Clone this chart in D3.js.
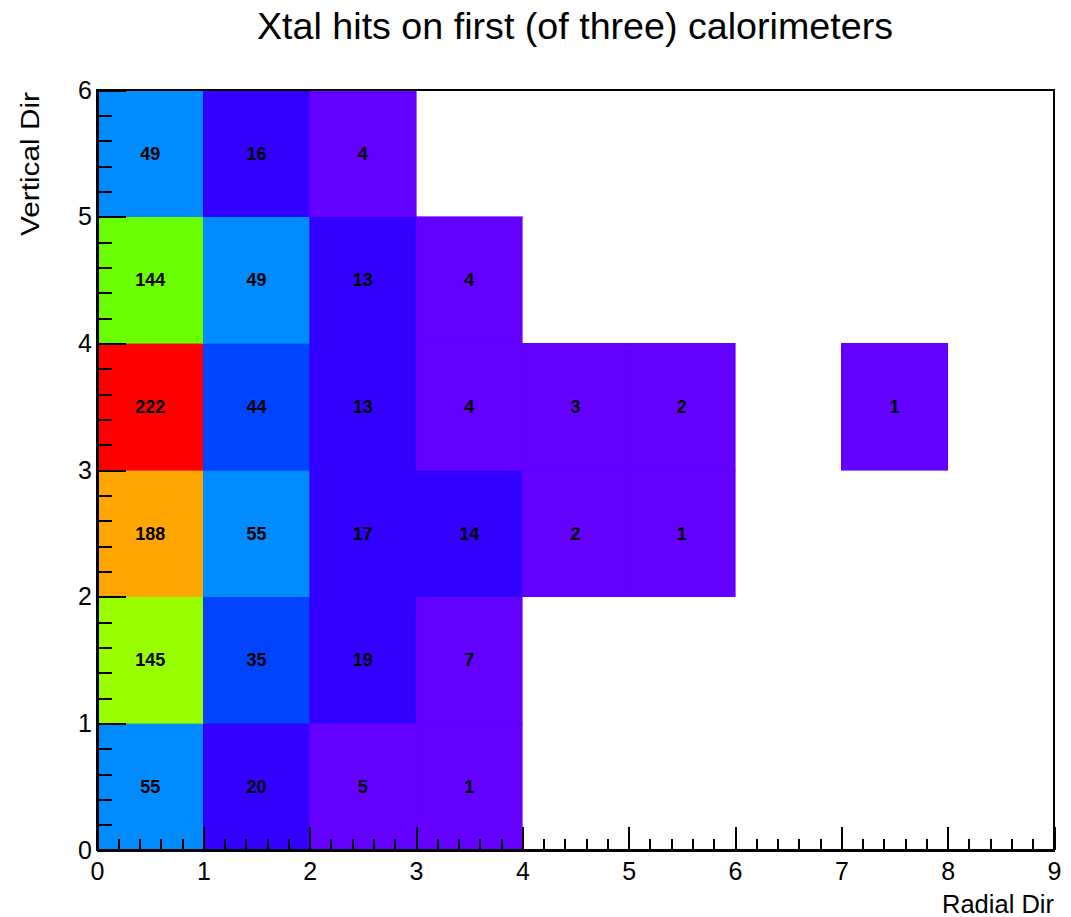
<!DOCTYPE html>
<html>
<head>
<meta charset="utf-8">
<script src="https://cdn.jsdelivr.net/npm/d3@7"></script>
<style>
  body { margin: 0; background: #fff; }
  text { font-family: "Liberation Sans", Arial, Helvetica, sans-serif; }
</style>
</head>
<body>
<div id="chart"></div>
<script>
// bin edges and counts (rows go bottom -> top, one entry per radial bin)
const radialEdges = [0, 1, 2, 3, 4, 5, 6, 7, 8, 9];
const verticalEdges = [0, 1, 2, 3, 4, 5, 6];
const hitsRow0 = [55, 20, 5, 1, 0, 0, 0, 0, 0];
const hitsRow1 = [145, 35, 19, 7, 0, 0, 0, 0, 0];
const hitsRow2 = [188, 55, 17, 14, 2, 1, 0, 0, 0];
const hitsRow3 = [222, 44, 13, 4, 3, 2, 0, 1, 0];
const hitsRow4 = [144, 49, 13, 4, 0, 0, 0, 0, 0];
const hitsRow5 = [49, 16, 4, 0, 0, 0, 0, 0, 0];
const xTicks = [0, 1, 2, 3, 4, 5, 6, 7, 8, 9];
const yTicks = [0, 1, 2, 3, 4, 5, 6];

const rows = [hitsRow0, hitsRow1, hitsRow2, hitsRow3, hitsRow4, hitsRow5];

const width = 1071, height = 917;
const margin = { top: 90, right: 17, bottom: 67, left: 97 };

const svg = d3.select("#chart")
    .append("svg")
    .attr("width", width)
    .attr("height", height);

const x = d3.scaleLinear().domain([0, 9]).range([margin.left, width - margin.right]);
const y = d3.scaleLinear().domain([0, 6]).range([height - margin.bottom, margin.top]);

// old ROOT "pretty" palette: 49 hues from violet to orange + red at the end
const palette = d3.range(50).map(i => i === 49 ? "#ff0000"
    : d3.hsl(280 - (i + 1) * 5.6, 1, 0.5).formatHex());
const nLevels = 20;
const levelColors = d3.range(nLevels).map(k => palette[Math.floor((k + 0.99) * 50 / nLevels)]);

const cells = [];
rows.forEach((row, j) => row.forEach((v, i) => {
    if (v > 0) cells.push({ x0: radialEdges[i], x1: radialEdges[i + 1],
                            y0: verticalEdges[j], y1: verticalEdges[j + 1], v });
}));

const maxV = d3.max(cells, d => d.v);
const color = d3.scaleQuantize().domain([0, maxV]).range(levelColors);

// cells
svg.append("g")
    .selectAll("rect")
    .data(cells)
    .enter()
    .append("rect")
    .attr("x", d => x(d.x0))
    .attr("y", d => y(d.y1))
    .attr("width", d => x(d.x1) - x(d.x0))
    .attr("height", d => y(d.y0) - y(d.y1))
    .attr("fill", d => color(d.v))
    .attr("stroke", d => color(d.v))
    .attr("stroke-width", 0.6)
    .attr("shape-rendering", "crispEdges");

// cell labels
svg.append("g")
    .selectAll("text")
    .data(cells)
    .enter()
    .append("text")
    .attr("x", d => x((d.x0 + d.x1) / 2))
    .attr("y", d => y((d.y0 + d.y1) / 2))
    .attr("dy", "0.36em")
    .attr("text-anchor", "middle")
    .style("font-family", "'Liberation Sans Narrow', 'Liberation Sans', Arial, sans-serif")
    .style("font-weight", "bold")
    .style("font-size", "18px")
    .attr("fill", "#000")
    .text(d => d.v);

// frame (top and right)
svg.append("rect")
    .attr("x", x(0))
    .attr("y", y(6))
    .attr("width", x(9) - x(0))
    .attr("height", y(0) - y(6))
    .attr("fill", "none")
    .attr("stroke", "#000")
    .attr("stroke-width", 2)
    .attr("shape-rendering", "crispEdges");

// minor ticks: 5 subdivisions per unit
const xMinor = d3.range(0, 9.001, 0.2).filter(v => Math.abs(v - Math.round(v)) > 1e-6);
const yMinor = d3.range(0, 6.001, 0.2).filter(v => Math.abs(v - Math.round(v)) > 1e-6);

const xAxisMinor = svg.append("g")
    .attr("transform", `translate(0, ${y(0)})`)
    .call(d3.axisBottom(x).tickValues(xMinor).tickSize(-11.5).tickFormat(""));
xAxisMinor.select(".domain").remove();

const yAxisMinor = svg.append("g")
    .attr("transform", `translate(${x(0)}, 0)`)
    .call(d3.axisLeft(y).tickValues(yMinor).tickSize(-14.5).tickFormat(""));
yAxisMinor.select(".domain").remove();

// major axes
const xAxis = svg.append("g")
    .attr("transform", `translate(0, ${y(0)})`)
    .call(d3.axisBottom(x).tickValues(xTicks).tickSizeInner(-23).tickSizeOuter(0)
        .tickPadding(12).tickFormat(d3.format("d")));

const yAxis = svg.append("g")
    .attr("transform", `translate(${x(0)}, 0)`)
    .call(d3.axisLeft(y).tickValues(yTicks).tickSizeInner(-29).tickSizeOuter(0)
        .tickPadding(5).tickFormat(d3.format("d")));

svg.selectAll(".tick line")
    .attr("stroke", "#000")
    .attr("stroke-width", 2)
    .attr("shape-rendering", "crispEdges");
svg.selectAll(".domain").attr("stroke", "#000").attr("stroke-width", 2)
    .attr("shape-rendering", "crispEdges");
svg.selectAll(".tick text")
    .style("font-family", "'Liberation Sans', Arial, sans-serif")
    .style("font-size", "25px")
    .attr("fill", "#000");

// title
svg.append("text")
    .attr("x", 575)
    .attr("y", 39)
    .attr("text-anchor", "middle")
    .attr("textLength", 636)
    .attr("lengthAdjust", "spacingAndGlyphs")
    .style("font-size", "36px")
    .text("Xtal hits on first (of three) calorimeters");

// axis titles
svg.append("text")
    .attr("x", x(9))
    .attr("y", 913)
    .attr("text-anchor", "end")
    .attr("textLength", 112)
    .attr("lengthAdjust", "spacingAndGlyphs")
    .style("font-size", "25px")
    .text("Radial Dir");

svg.append("text")
    .attr("transform", `translate(39, ${y(6) + 2}) rotate(-90)`)
    .attr("text-anchor", "end")
    .attr("textLength", 144)
    .attr("lengthAdjust", "spacingAndGlyphs")
    .style("font-size", "25px")
    .text("Vertical Dir");
</script>
</body>
</html>
